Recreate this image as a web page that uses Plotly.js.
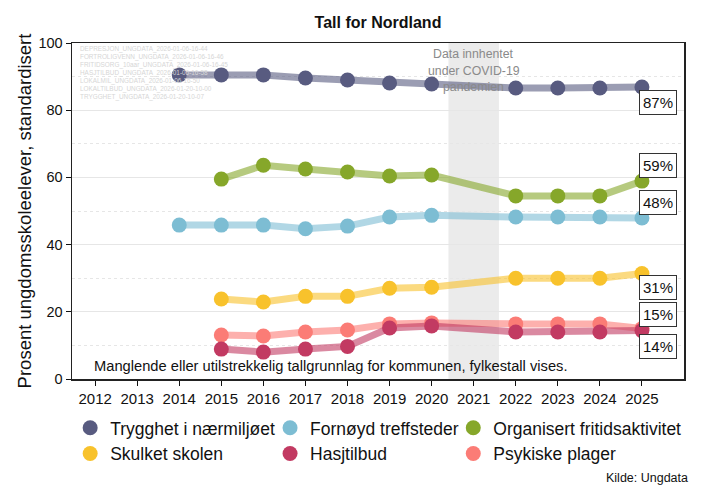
<!DOCTYPE html>
<html>
<head>
<meta charset="utf-8">
<script src="https://cdn.plot.ly/plotly-3.0.1.min.js"></script>
<style>html,body{margin:0;padding:0;background:#fff;}#chart{width:701px;height:495px;}</style>
</head>
<body>
<div id="chart"></div>
<script>
const seriesNames = ["Trygghet i nærmiljøet", "Fornøyd treffsteder", "Organisert fritidsaktivitet", "Skulket skolen", "Hasjtilbud", "Psykiske plager"];
const years14 = [2014, 2015, 2016, 2017, 2018, 2019, 2020, 2022, 2023, 2024, 2025];
const years15 = [2015, 2016, 2017, 2018, 2019, 2020, 2022, 2023, 2024, 2025];
const trygghet = [90.5, 90.5, 90.5, 89.6, 89.0, 88.1, 87.8, 86.6, 86.6, 86.6, 86.9];
const fornoyd = [45.8, 45.8, 45.8, 44.7, 45.5, 48.2, 48.7, 48.2, 48.2, 48.2, 47.9];
const organisert = [59.5, 63.6, 62.5, 61.6, 60.4, 60.7, 54.5, 54.5, 54.5, 58.9];
const skulket = [23.8, 22.9, 24.6, 24.6, 27.0, 27.3, 30.0, 30.0, 30.0, 31.4];
const hasjtilbud = [8.9, 8.0, 8.9, 9.7, 15.2, 15.8, 14.0, 14.0, 14.0, 14.4];
const psykiske = [13.1, 12.8, 14.0, 14.6, 16.4, 16.7, 16.4, 16.4, 16.4, 15.0];
const xTicks = [2012, 2013, 2014, 2015, 2016, 2017, 2018, 2019, 2020, 2021, 2022, 2023, 2024, 2025];
const covidSpan = [2020.4, 2021.6];
const covidText = ["Data innhentet", "under COVID-19", "pandemien"];
const watermark = ["DEPRESJON_UNGDATA_2026-01-06-16-44", "FORTROLIGVENN_UNGDATA_2026-01-06-16-46", "FRITIDSORG_10aar_UNGDATA_2026-01-06-16-45", "HASJTILBUD_UNGDATA_2026-01-06-16-58", "LOKALMIL_UNGDATA_2026-01-06-16-50", "LOKALTILBUD_UNGDATA_2026-01-20-10-00", "TRYGGHET_UNGDATA_2026-01-20-10-07"];

const xs = [years14, years14, years15, years15, years15, years15];
const ys = [trygghet, fornoyd, organisert, skulket, hasjtilbud, psykiske];
const markerColors = ["#585b80", "#7dbdd3", "#86a72a", "#f8c22c", "#c23a62", "#fb7c76"];
const lineColors = ["rgba(88,91,128,0.6)", "rgba(125,189,211,0.6)", "rgba(134,167,42,0.6)", "rgba(248,194,44,0.6)", "rgba(194,58,98,0.6)", "rgba(251,124,118,0.6)"];
const labelShift = [-15, 16, 16, -14, -16, 14];
const legendIds = ["legend", "legend2", "legend3", "legend", "legend2", "legend3"];
const drawOrder = [0, 1, 2, 3, 5, 4];

const traces = [];
drawOrder.forEach(i => {
  traces.push({x: xs[i], y: ys[i], mode: 'lines', line: {color: lineColors[i], width: 7}, showlegend: false, hoverinfo: 'skip'});
});
drawOrder.forEach(i => {
  traces.push({x: xs[i], y: ys[i], mode: 'markers', name: seriesNames[i], marker: {color: markerColors[i], size: 15}, legend: legendIds[i], legendrank: i + 1});
});

const annotations = [];
watermark.forEach((t, k) => {
  annotations.push({x: 0.01, y: 1, xref: 'paper', yref: 'paper', xanchor: 'left', yanchor: 'middle', text: t, showarrow: false, font: {size: 6.4, color: '#d6d6d6'}, yshift: -6 - 8 * k});
});
ys.forEach((arr, i) => {
  const last = arr[arr.length - 1];
  annotations.push({x: xs[i][xs[i].length - 1], y: last, xref: 'x', yref: 'y', text: Math.round(last) + '%', showarrow: false,
    xanchor: 'left', xshift: -3, yshift: labelShift[i], font: {size: 15, color: '#111'}, bgcolor: '#fff', bordercolor: '#333', borderwidth: 1, borderpad: 3});
});
covidText.forEach((t, k) => {
  annotations.push({x: (covidSpan[0] + covidSpan[1]) / 2, y: 1, xref: 'x', yref: 'paper', yanchor: 'middle', text: t, showarrow: false, font: {size: 12.3, color: '#8a8a8a'}, yshift: -11 - 16.5 * k});
});
annotations.push({x: 2012, y: 0, xref: 'x', yref: 'y', xanchor: 'left', yanchor: 'bottom', yshift: 3, xshift: -3, text: 'Manglende eller utilstrekkelig tallgrunnlag for kommunen, fylkestall vises.', showarrow: false, font: {size: 14.7, color: '#111'}});
annotations.push({x: 1, y: 0, xref: 'paper', yref: 'paper', xanchor: 'right', yanchor: 'middle', text: 'Kilde: Ungdata', showarrow: false, font: {size: 12.5, color: '#111'}, yshift: -99, xshift: 6});

const legendBase = {orientation: 'v', y: -0.092, yanchor: 'top', xanchor: 'left', font: {size: 17.5, color: '#111'}, itemwidth: 30, traceorder: 'normal', tracegroupgap: 0, bgcolor: 'rgba(0,0,0,0)'};

const layout = {
  width: 701, height: 495,
  margin: {l: 72, r: 17, t: 43, b: 116},
  paper_bgcolor: '#fff', plot_bgcolor: '#fff',
  font: {family: 'Liberation Sans, Arial, sans-serif', color: '#111'},
  title: {text: '<b>Tall for Nordland</b>', x: 0.5, xref: 'paper', y: 0.955, yanchor: 'middle', font: {size: 16, color: '#111'}},
  xaxis: {range: [2011.45, 2026.0], tickvals: xTicks, ticktext: xTicks.map(String), ticks: 'outside', ticklen: 5, tickcolor: '#111',
    showline: true, linecolor: '#222', linewidth: 1.5, mirror: true, showgrid: false, zeroline: false, tickfont: {size: 15}},
  yaxis: {range: [0, 100], tickvals: [0, 20, 40, 60, 80, 100], ticks: 'outside', ticklen: 5, tickcolor: '#111',
    showline: true, linecolor: '#222', linewidth: 1.5, mirror: true, showgrid: true, gridcolor: '#e6e6e6', gridwidth: 1, zeroline: false,
    minor: {tickvals: [10, 30, 50, 70, 90], showgrid: true, gridcolor: '#e6e6e6', griddash: 'dot', gridwidth: 1, ticks: ''},
    tickfont: {size: 14.5}, title: {text: 'Prosent ungdomsskoleelever, standardisert', font: {size: 18.5}, standoff: 2}},
  shapes: [{type: 'rect', xref: 'x', yref: 'paper', x0: covidSpan[0], x1: covidSpan[1], y0: 0, y1: 1, fillcolor: '#ebebeb', line: {width: 0}, layer: 'below'}],
  annotations: annotations,
  legend: Object.assign({}, legendBase, {x: -0.003}),
  legend2: Object.assign({}, legendBase, {x: 0.3236}),
  legend3: Object.assign({}, legendBase, {x: 0.623}),
  hovermode: false
};

Plotly.newPlot('chart', traces, layout, {staticPlot: true, displayModeBar: false});
</script>
</body>
</html>
